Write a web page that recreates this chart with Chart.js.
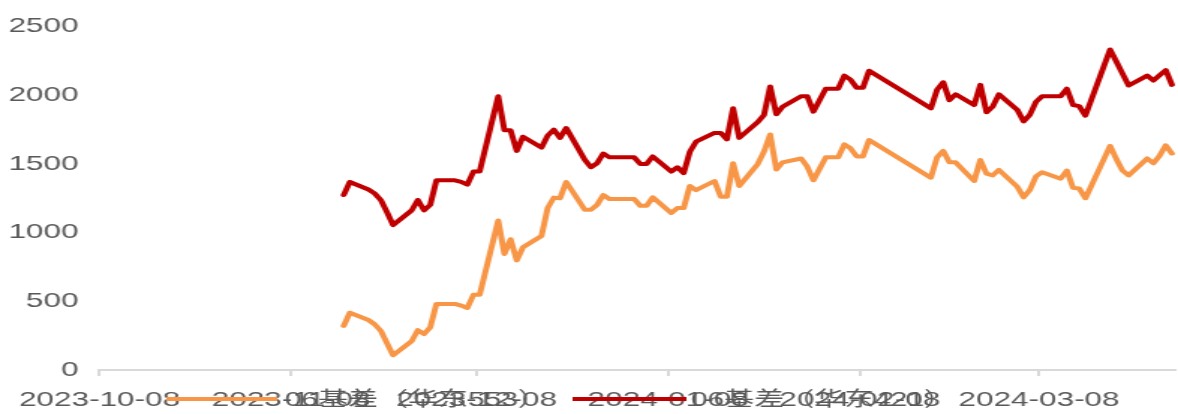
<!DOCTYPE html>
<html>
<head>
<meta charset="utf-8">
<script src="https://cdn.jsdelivr.net/npm/chart.js@4.4.1/dist/chart.umd.min.js"></script>
<style>
  html, body { margin: 0; padding: 0; background: #ffffff; overflow: hidden; }
  #wrap { width: 786px; height: 414px; transform: scaleX(1.49873); transform-origin: 0 0; }
</style>
</head>
<body>
<div id="wrap"><canvas id="chart" width="786" height="414"></canvas></div>
<script>
// Working days of the spot/futures basis series
const dates = [
  '2023-11-16','2023-11-17','2023-11-20','2023-11-21','2023-11-22','2023-11-23','2023-11-24',
  '2023-11-27','2023-11-28','2023-11-29','2023-11-30',
  '2023-12-01','2023-12-04','2023-12-05','2023-12-06','2023-12-07','2023-12-08',
  '2023-12-11','2023-12-12','2023-12-13','2023-12-14','2023-12-15',
  '2023-12-18','2023-12-19','2023-12-20','2023-12-21','2023-12-22',
  '2023-12-25','2023-12-26','2023-12-27','2023-12-28','2023-12-29',
  '2024-01-02','2024-01-03','2024-01-04','2024-01-05',
  '2024-01-08','2024-01-09','2024-01-10','2024-01-11','2024-01-12',
  '2024-01-15','2024-01-16','2024-01-17','2024-01-18','2024-01-19',
  '2024-01-22','2024-01-23','2024-01-24','2024-01-25','2024-01-26',
  '2024-01-29','2024-01-30','2024-01-31',
  '2024-02-01','2024-02-02','2024-02-04','2024-02-05','2024-02-06','2024-02-07','2024-02-08','2024-02-09',
  '2024-02-19','2024-02-20','2024-02-21','2024-02-22','2024-02-23',
  '2024-02-26','2024-02-27','2024-02-28','2024-02-29',
  '2024-03-01','2024-03-04','2024-03-05','2024-03-06','2024-03-07','2024-03-08',
  '2024-03-11','2024-03-12','2024-03-13','2024-03-14','2024-03-15',
  '2024-03-18','2024-03-19','2024-03-20','2024-03-21','2024-03-22',
  '2024-03-25','2024-03-26','2024-03-27','2024-03-28','2024-03-29'
];

// 华东553 basis
const basis553 = [
  321, 417, 364, 333, 286, 195, 107, 210, 290, 262, 310,
  481, 481, 469, 452, 548, 548, 1088, 845, 952, 798, 893,
  976, 1179, 1255, 1250, 1369, 1167, 1167, 1202, 1274, 1245,
  1245, 1195, 1195, 1257, 1143, 1179, 1179, 1340, 1310,
  1376, 1262, 1262, 1505, 1340, 1500, 1590, 1714, 1460, 1512,
  1540, 1480, 1381,
  1465, 1548, 1548, 1643, 1614, 1555, 1555, 1674,
  1400, 1548, 1595, 1512, 1512, 1376, 1529, 1429, 1417,
  1457, 1333, 1257, 1310, 1410, 1440,
  1393, 1452, 1326, 1321, 1250,
  1536, 1631, 1536, 1452, 1417,
  1540, 1505, 1560, 1636, 1576
];

// 华东421 basis
const basis421 = [
  1274, 1369, 1314, 1286, 1238, 1150, 1055, 1162, 1238, 1162, 1202,
  1381, 1381, 1370, 1350, 1445, 1445, 1993, 1745, 1745, 1595, 1698,
  1619, 1707, 1750, 1690, 1762, 1530, 1476, 1505, 1576, 1548,
  1548, 1500, 1500, 1555, 1445, 1476, 1433, 1588, 1662,
  1726, 1726, 1679, 1905, 1690, 1805, 1857, 2064, 1862, 1917,
  1993, 1993, 1881,
  1965, 2048, 2048, 2143, 2114, 2055, 2055, 2179,
  1905, 2040, 2095, 1964, 2007, 1929, 2076, 1876, 1917,
  2007, 1893, 1810, 1857, 1952, 1993,
  1993, 2048, 1929, 1921, 1852,
  2213, 2333, 2246, 2158, 2071,
  2143, 2107, 2145, 2183, 2076
];

const seriesNames = ['06基差（华东553）', '06基差（华东421）'];
const seriesColors = ['#F79646', '#C00000'];

const axisStart = '2023-10-08';
const axisEnd = '2024-03-30';
const xTickDates = ['2023-10-08', '2023-11-08', '2023-12-08', '2024-01-08', '2024-02-08', '2024-03-08'];
const yTickValues = [0, 500, 1000, 1500, 2000, 2500];

const DAY = 86400000;
function toUTC(s) {
  const [y, m, d] = s.split('-').map(Number);
  return Date.UTC(y, m - 1, d);
}
const originMs = toUTC(axisStart);
function dayOf(s) { return (toUTC(s) - originMs) / DAY; }
function fmtDay(v) { return new Date(originMs + Math.round(v) * DAY).toISOString().slice(0, 10); }

// each daily value sits in the middle of its day slot
function toPoints(values) {
  return values.map((v, i) => ({ x: dayOf(dates[i]) + 0.5, y: v }));
}

const textColor = '#595959';
const axisGray = '#d9d9d9';
const fontFamily = '"Liberation Sans", Arial, "Noto Sans CJK SC", sans-serif';

// legend drawn along the bottom, sharing the row of the date labels
const bottomLegend = {
  id: 'bottomLegend',
  afterDraw(chart) {
    const ctx = chart.ctx;
    const slots = [
      { x0: 111, x1: 185, tx: 190 },
      { x0: 382, x1: 458, tx: 461 }
    ];
    const y = 399;
    ctx.save();
    chart.data.datasets.forEach((ds, i) => {
      const s = slots[i];
      ctx.strokeStyle = ds.borderColor;
      ctx.lineWidth = 4;
      ctx.lineCap = 'butt';
      ctx.beginPath();
      ctx.moveTo(s.x0, y);
      ctx.lineTo(s.x1, y);
      ctx.stroke();
      ctx.fillStyle = textColor;
      ctx.font = '20px ' + fontFamily;
      ctx.textBaseline = 'middle';
      ctx.textAlign = 'left';
      ctx.fillText(ds.label, s.tx, y + 1);
    });
    ctx.restore();
  }
};

new Chart(document.getElementById('chart'), {
  type: 'line',
  data: {
    datasets: [
      {
        label: seriesNames[0],
        data: toPoints(basis553),
        borderColor: seriesColors[0],
        backgroundColor: seriesColors[0],
        borderWidth: 4,
        pointRadius: 0,
        tension: 0,
        borderJoinStyle: 'round',
        borderCapStyle: 'round'
      },
      {
        label: seriesNames[1],
        data: toPoints(basis421),
        borderColor: seriesColors[1],
        backgroundColor: seriesColors[1],
        borderWidth: 4,
        pointRadius: 0,
        tension: 0,
        borderJoinStyle: 'round',
        borderCapStyle: 'round'
      }
    ]
  },
  options: {
    responsive: false,
    animation: false,
    devicePixelRatio: 1,
    layout: { padding: { top: 20, right: 2, bottom: 0, left: 0 } },
    plugins: { legend: { display: false }, tooltip: { enabled: false } },
    scales: {
      x: {
        type: 'linear',
        min: 0,
        max: dayOf(axisEnd),
        afterBuildTicks(axis) { axis.ticks = xTickDates.map(s => ({ value: dayOf(s) })); },
        afterFit(axis) { axis.height = 44; },
        ticks: {
          autoSkip: false,
          maxRotation: 0,
          color: textColor,
          font: { family: fontFamily, size: 21 },
          padding: 12,
          callback: v => fmtDay(v)
        },
        grid: { drawOnChartArea: false, drawTicks: true, tickLength: 6, color: axisGray, lineWidth: 2 },
        border: { display: true, color: axisGray, width: 2 }
      },
      y: {
        min: 0,
        max: 2500,
        afterBuildTicks(axis) { axis.ticks = yTickValues.map(v => ({ value: v })); },
        afterFit(axis) { axis.width = 66.4; },
        ticks: {
          color: textColor,
          font: { family: fontFamily, size: 21 },
          padding: 14,
          callback: v => String(v)
        },
        grid: { display: false, drawTicks: false },
        border: { display: false }
      }
    }
  },
  plugins: [bottomLegend]
});
</script>
</body>
</html>
